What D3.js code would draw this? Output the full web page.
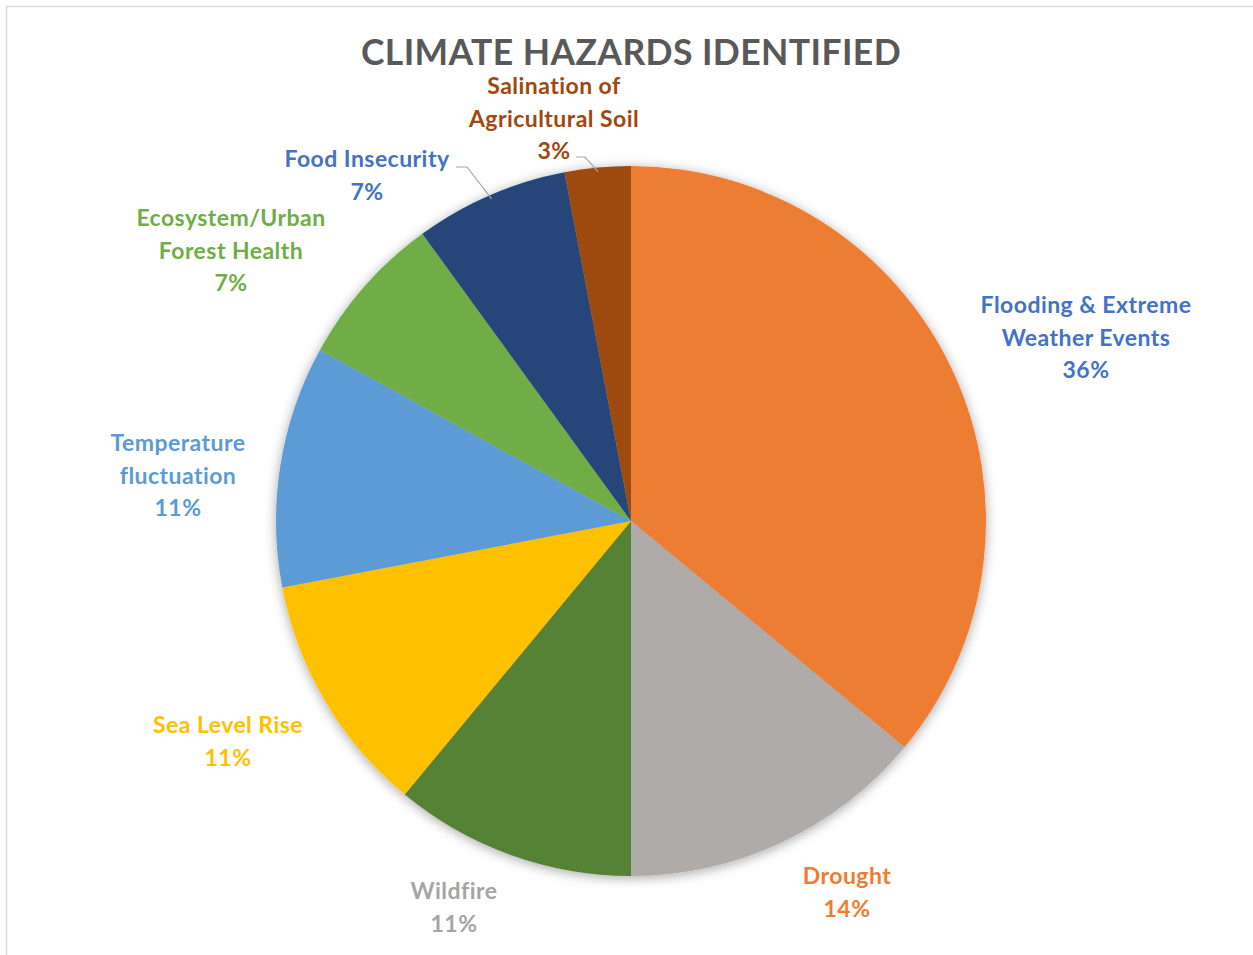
<!DOCTYPE html>
<html>
<head>
<meta charset="utf-8">
<script src="https://cdn.jsdelivr.net/npm/d3@7/dist/d3.min.js"></script>
<style>
  html, body { margin: 0; padding: 0; background: #fff; }
  svg { display: block; }
</style>
</head>
<body>
<svg id="chart" width="1253" height="955"></svg>
<script>
// Climate hazards identified, share of mentions (%)
const categories = [
  "Flooding & Extreme Weather Events",
  "Drought",
  "Wildfire",
  "Sea Level Rise",
  "Temperature fluctuation",
  "Ecosystem/Urban Forest Health",
  "Food Insecurity",
  "Salination of Agricultural Soil"
];
const values = [36, 14, 11, 11, 11, 7, 7, 3];
const labelLines = [
  ["Flooding & Extreme", "Weather Events"],
  ["Drought"],
  ["Wildfire"],
  ["Sea Level Rise"],
  ["Temperature", "fluctuation"],
  ["Ecosystem/Urban", "Forest Health"],
  ["Food Insecurity"],
  ["Salination of", "Agricultural Soil"]
];
const title = "CLIMATE HAZARDS IDENTIFIED";

// styling
const sliceColors = ["#ED7D31", "#AEABA9", "#548235", "#FFC000", "#5B9BD5", "#70AD47", "#264478", "#9E480E"];
const labelColors = ["#4472C4", "#ED7D31", "#A5A5A5", "#FFC000", "#5B9BD5", "#70AD47", "#4472C4", "#9E480E"];
// label block centre x and first-line centre y
const labelPos = [
  [1086, 305], [847, 876], [454, 891], [228, 725],
  [178, 443], [231, 218], [367, 159], [554, 86]
];
// leader lines for the small slices (label end -> elbow), drawn to the arc edge
const leaders = { 6: [[456, 167], [467, 167]], 7: [[576, 157], [585, 157]] };

const svg = d3.select("#chart");
const W = 1253, H = 955;
const cx = 631, cy = 521, R = 355;
const font = "Lato, 'Open Sans', sans-serif";
const lineH = 32.5;

// chart frame
svg.append("rect")
  .attr("x", 6.5).attr("y", 6.5)
  .attr("width", W + 10).attr("height", H + 10)
  .attr("fill", "#fff").attr("stroke", "#D9D9D9").attr("stroke-width", 1.5);

// soft shadow under the pie
const defs = svg.append("defs");
const f = defs.append("filter").attr("id", "pieShadow")
  .attr("x", "-20%").attr("y", "-20%").attr("width", "140%").attr("height", "140%");
f.append("feDropShadow").attr("dx", 0).attr("dy", 2)
  .attr("stdDeviation", 6).attr("flood-color", "#000").attr("flood-opacity", 0.35);

// title
svg.append("text")
  .attr("x", cx).attr("y", 65)
  .attr("text-anchor", "middle")
  .attr("font-family", font).attr("font-weight", 700)
  .attr("font-size", 35.5).attr("letter-spacing", 0.4).attr("fill", "#595959")
  .text(title);

const data = categories.map((c, i) => ({ name: c, value: values[i], i }));
const pie = d3.pie().value(d => d.value).sort(null);
const arcs = pie(data);
const arc = d3.arc().innerRadius(0).outerRadius(R);

const g = svg.append("g").attr("transform", `translate(${cx},${cy})`);
g.append("g").attr("filter", "url(#pieShadow)")
  .selectAll("path").data(arcs).join("path")
  .attr("d", arc)
  .attr("fill", d => sliceColors[d.data.i]);

// leader lines
Object.entries(leaders).forEach(([k, pts]) => {
  const a = arcs[+k];
  const ang = a.startAngle + (a.endAngle - a.startAngle) * 0.5;
  const ex = cx + Math.sin(ang) * (R - 4);
  const ey = cy - Math.cos(ang) * (R - 4);
  svg.append("path")
    .attr("d", d3.line()([...pts, [ex, ey]]))
    .attr("fill", "none").attr("stroke", "#A6A6A6").attr("stroke-width", 1.2);
});

// data labels
const fmt = d3.format(".0%");
const total = d3.sum(values);
data.forEach((d, i) => {
  const [lx, ly] = labelPos[i];
  const lines = labelLines[i].concat([fmt(d.value / total)]);
  const t = svg.append("text")
    .attr("text-anchor", "middle")
    .attr("font-family", font).attr("font-weight", 700)
    .attr("font-size", 23).attr("letter-spacing", 0.45).attr("fill", labelColors[i]);
  lines.forEach((s, j) => {
    t.append("tspan").attr("x", lx).attr("y", ly + j * lineH)
      .attr("dy", "0.36em").text(s);
  });
});
</script>
</body>
</html>
